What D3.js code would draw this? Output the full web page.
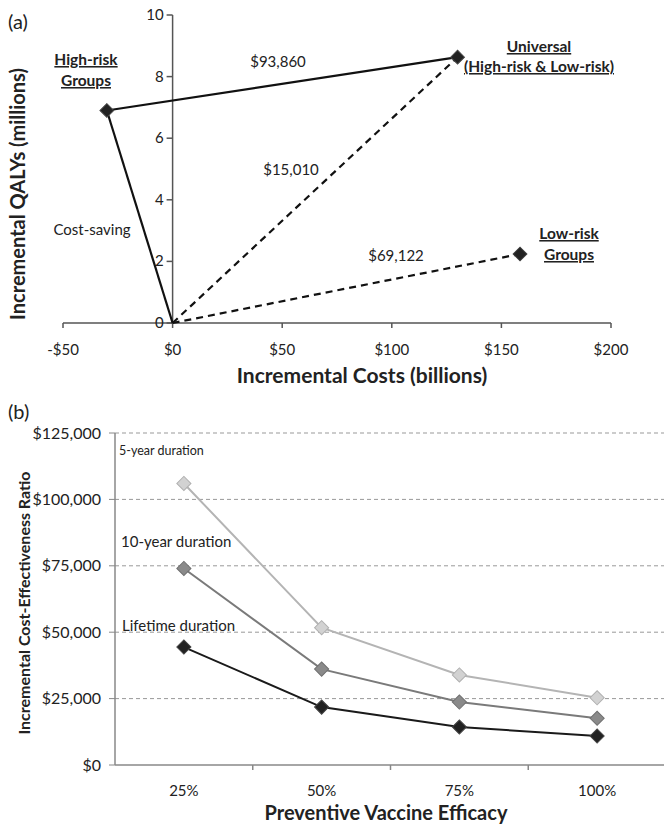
<!DOCTYPE html>
<html><head><meta charset="utf-8">
<script src="https://cdn.jsdelivr.net/npm/d3@7"></script>
<style>body{margin:0;background:#fff}svg{display:block}text{font-family:Lato,"Open Sans",sans-serif;fill:#222}</style>
</head><body><svg id="c" width="664" height="828"></svg>
<script>
// Panel (a) data
const strategies = ["Origin","High-risk Groups","Universal","Low-risk Groups"];
const costs = [0, -30, 130, 158.5];       // billions
const qalys = [0, 6.9, 8.63, 2.24];       // millions
const segments = [ // [from,to,dashed]
  [0,1,false],[1,2,false],[0,2,true],[0,3,true]
];
const icerLabels = ["Cost-saving","$93,860","$15,010","$69,122"];
const xTicksA = [-50,0,50,100,150,200];
const yTicksA = [0,2,4,6,8,10];

// Panel (b) data
const efficacy = ["25%","50%","75%","100%"];
const seriesNames = ["5-year duration","10-year duration","Lifetime duration"];
const fiveYear = [106000, 51700, 33900, 25300];
const tenYear = [74000, 36100, 23700, 17600];
const lifetime = [44400, 21800, 14300, 10900];
const yTicksB = [0,25000,50000,75000,100000,125000];

const svg = d3.select("#c");
const money = d => (d<0?"-$":"$")+Math.abs(d);

// ---------- Panel (a)
const xa = d3.scaleLinear().domain([-50,200]).range([63,611]);
const ya = d3.scaleLinear().domain([0,10]).range([323,15]);
const ga = svg.append("g");
const axCol="#555";
ga.append("line").attr("x1",xa(-50)).attr("x2",xa(200)).attr("y1",ya(0)).attr("y2",ya(0)).attr("stroke",axCol).attr("stroke-width",1.5);
ga.append("line").attr("x1",xa(0)).attr("x2",xa(0)).attr("y1",ya(0)).attr("y2",ya(10)).attr("stroke",axCol).attr("stroke-width",1.5);
xTicksA.forEach(t=>{
  ga.append("line").attr("x1",xa(t)).attr("x2",xa(t)).attr("y1",ya(0)).attr("y2",ya(0)+5).attr("stroke",axCol).attr("stroke-width",1.5);
  ga.append("text").attr("x",xa(t)).attr("y",355).attr("text-anchor","middle").attr("font-size",15).text(money(t));
});
yTicksA.forEach(t=>{
  ga.append("line").attr("x1",xa(0)-6).attr("x2",xa(0)).attr("y1",ya(t)).attr("y2",ya(t)).attr("stroke",axCol).attr("stroke-width",1.5);
  ga.append("text").attr("x",xa(0)-9).attr("y",ya(t)+5).attr("text-anchor","end").attr("font-size",15).text(t);
});
segments.forEach(([a,b,d])=>{
  ga.append("line").attr("x1",xa(costs[a])).attr("y1",ya(qalys[a])).attr("x2",xa(costs[b])).attr("y2",ya(qalys[b]))
    .attr("stroke","#111").attr("stroke-width",2.2).attr("stroke-dasharray",d?"7,5":null);
});
const diamond = d3.symbol().type(d3.symbolSquare).size(95);
[1,2,3].forEach(i=>{
  ga.append("path").attr("d",diamond).attr("transform",`translate(${xa(costs[i])},${ya(qalys[i])}) rotate(45)`)
    .attr("fill","#222").attr("stroke","#444").attr("stroke-width",1);
});
// strategy labels
const lab = [
  {lines:["High-risk","Groups"],x:86,y:[65,86]},
  {lines:["Universal","(High-risk & Low-risk)"],x:539,y:[52,72]},
  {lines:["Low-risk","Groups"],x:569,y:[239,260]}
];
lab.forEach(l=>{
  l.lines.forEach((s,k)=>{
    ga.append("text").attr("x",l.x).attr("y",l.y[k]).attr("text-anchor","middle").attr("font-size",15.5)
      .attr("font-weight","bold").attr("text-decoration","underline").text(s);
  });
});
const icerPos = [[92,235],[278,67],[291,175],[396,261]];
icerLabels.forEach((s,i)=>{
  ga.append("text").attr("x",icerPos[i][0]).attr("y",icerPos[i][1]).attr("text-anchor","middle").attr("font-size",15).text(s);
});
ga.append("text").attr("x",8).attr("y",29).attr("font-size",20).text("(a)");
ga.append("text").attr("x",362).attr("y",383).attr("text-anchor","middle").attr("font-size",21).attr("font-weight","bold").text("Incremental Costs  (billions)");
ga.append("text").attr("transform","translate(25,194) rotate(-90)").attr("text-anchor","middle").attr("font-size",20).attr("font-weight","bold").text("Incremental QALYs (millions)");

// ---------- Panel (b)
const xb = d3.scaleBand().domain(efficacy).range([115,666]);
const yb = d3.scaleLinear().domain([0,125000]).range([765,433]);
const gb = svg.append("g");
const gCol="#888";
yTicksB.forEach(t=>{
  if(t>0) gb.append("line").attr("x1",115).attr("x2",666).attr("y1",yb(t)).attr("y2",yb(t)).attr("stroke","#999").attr("stroke-width",1).attr("stroke-dasharray","4,3");
  gb.append("line").attr("x1",109).attr("x2",115).attr("y1",yb(t)).attr("y2",yb(t)).attr("stroke",gCol).attr("stroke-width",1);
  gb.append("text").attr("x",101).attr("y",yb(t)+5.5).attr("text-anchor","end").attr("font-size",16).text("$"+d3.format(",")(t));
});
gb.append("line").attr("x1",115).attr("x2",115).attr("y1",yb(125000)).attr("y2",yb(0)).attr("stroke",gCol).attr("stroke-width",1.5);
gb.append("line").attr("x1",115).attr("x2",666).attr("y1",yb(0)).attr("y2",yb(0)).attr("stroke",gCol).attr("stroke-width",1.5);
efficacy.forEach((c,i)=>{
  const bx = xb(c)+xb.bandwidth();
  gb.append("line").attr("x1",bx).attr("x2",bx).attr("y1",yb(0)).attr("y2",yb(0)+5).attr("stroke",gCol).attr("stroke-width",1.5);
  gb.append("text").attr("x",xb(c)+xb.bandwidth()/2).attr("y",796).attr("text-anchor","middle").attr("font-size",15).text(c);
});
const series = [
  {vals:fiveYear,line:"#b4b4b4",fill:"#d2d2d2",stroke:"#b0b0b0"},
  {vals:tenYear,line:"#7a7a7a",fill:"#8a8a8a",stroke:"#707070"},
  {vals:lifetime,line:"#1a1a1a",fill:"#222",stroke:"#444"}
];
const lineGen = d3.line().x((d,i)=>xb(efficacy[i])+xb.bandwidth()/2).y(d=>yb(d));
series.forEach(s=>{
  gb.append("path").attr("d",lineGen(s.vals)).attr("fill","none").attr("stroke",s.line).attr("stroke-width",2);
});
const diamondB = d3.symbol().type(d3.symbolSquare).size(100);
series.forEach(s=>{
  s.vals.forEach((v,i)=>{
    gb.append("path").attr("d",diamondB).attr("transform",`translate(${xb(efficacy[i])+xb.bandwidth()/2},${yb(v)}) rotate(45)`)
      .attr("fill",s.fill).attr("stroke",s.stroke).attr("stroke-width",1);
  });
});
const serPos=[[119,455,12.5],[121,547,15],[122,631,15]];
seriesNames.forEach((n,i)=>{
  gb.append("text").attr("x",serPos[i][0]).attr("y",serPos[i][1]).attr("font-size",serPos[i][2]).text(n);
});
gb.append("text").attr("x",8).attr("y",419).attr("font-size",20).text("(b)");
gb.append("text").attr("x",386).attr("y",820).attr("text-anchor","middle").attr("font-size",20).attr("font-weight","bold").text("Preventive Vaccine  Efficacy");
gb.append("text").attr("transform","translate(30,603) rotate(-90)").attr("text-anchor","middle").attr("font-size",16).attr("font-weight","bold").text("Incremental Cost-Effectiveness Ratio");
</script></body></html>
